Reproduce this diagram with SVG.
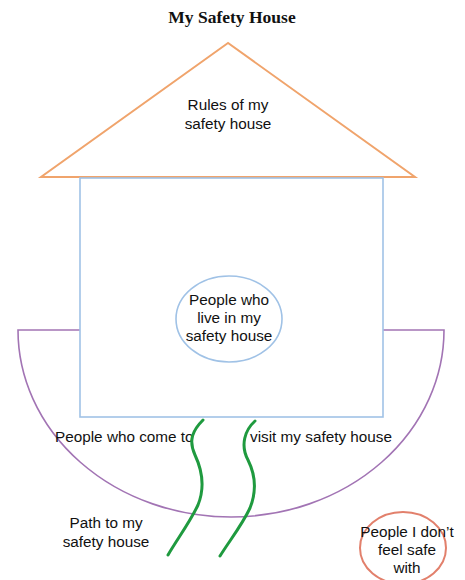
<svg xmlns="http://www.w3.org/2000/svg" width="465" height="580" viewBox="0 0 465 580">
<style>
.t{font-family:"Liberation Sans",Arial,sans-serif;font-size:15.3px;fill:#111;text-anchor:middle}
.l{text-anchor:start}
</style>
<rect width="465" height="580" fill="#fff"/>
<text x="232" y="23" font-family="Liberation Serif,serif" font-weight="bold" font-size="17.5" text-anchor="middle" fill="#111">My Safety House</text>
<g id="yard">
<path d="M80 330 H18 A213 187 0 0 0 444 330 H383" fill="none" stroke="#A274B4" stroke-width="1.6"/>
</g>
<g id="roof">
<polygon points="228,43 41,177 415,177" fill="none" stroke="#F0A46C" stroke-width="2"/>
<text class="t" x="228" y="110">Rules of my</text>
<text class="t" x="228" y="129">safety house</text>
</g>
<g id="house">
<rect x="80" y="178" width="303" height="239" fill="none" stroke="#A0C2E6" stroke-width="1.6"/>
</g>
<g id="live">
<ellipse cx="229" cy="319" rx="53" ry="43" fill="none" stroke="#A0C2E6" stroke-width="1.6"/>
<text class="t" x="229" y="305">People who</text>
<text class="t" x="229" y="323">live in my</text>
<text class="t" x="229" y="341">safety house</text>
</g>
<g id="visitors">
<text class="t l" x="55" y="442">People who come to</text>
<text class="t l" x="250" y="442">visit my safety house</text>
</g>
<g id="path">
<path d="M203 420 C193 430 188 440 195 455 C203 472 204 490 198 505 C190 522 178 538 168 555" fill="none" stroke="#1F9A3F" stroke-width="3" stroke-linecap="round"/>
<path d="M255 421 C245 430 240 445 248 460 C256 476 256 493 250 508 C242 525 230 540 220 556" fill="none" stroke="#1F9A3F" stroke-width="3" stroke-linecap="round"/>
<text class="t" x="106" y="528">Path to my</text>
<text class="t" x="106" y="547">safety house</text>
</g>
<g id="unsafe">
<ellipse cx="403" cy="548" rx="43" ry="36" fill="none" stroke="#E2806C" stroke-width="2"/>
<text class="t" x="407" y="537">People I don’t</text>
<text class="t" x="407" y="555">feel safe</text>
<text class="t" x="407" y="573">with</text>
</g>
</svg>
